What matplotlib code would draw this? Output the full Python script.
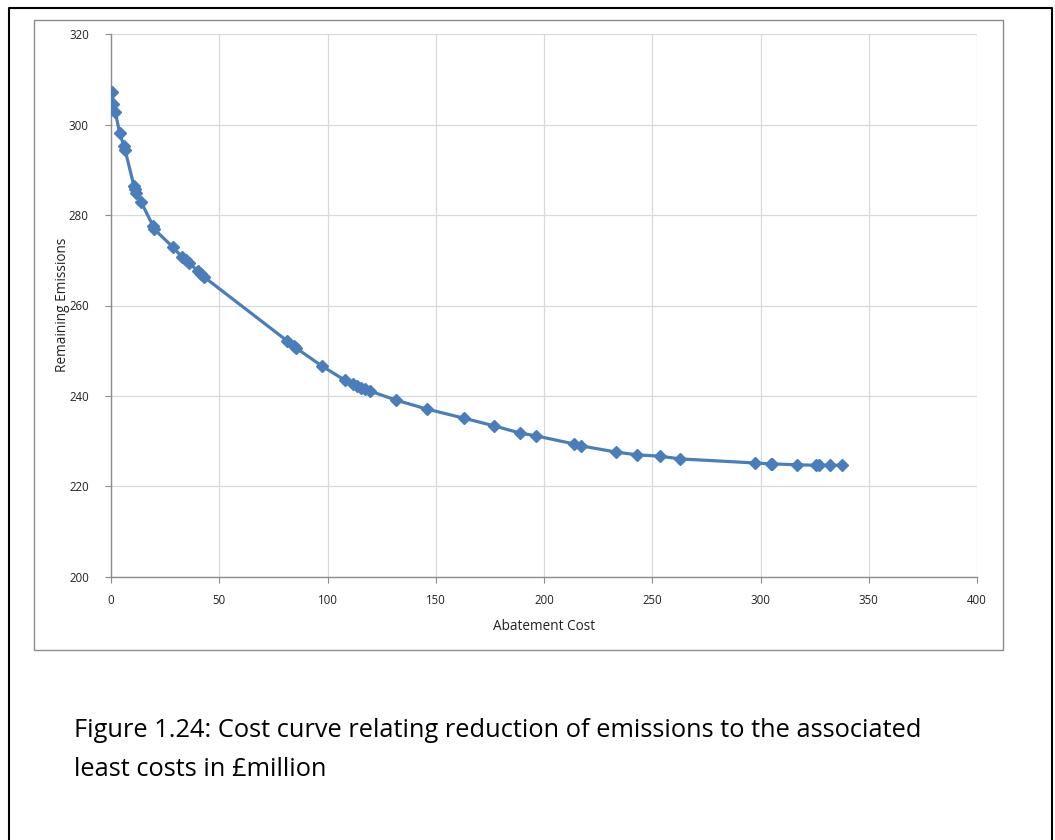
import matplotlib
matplotlib.use("Agg")
import matplotlib.pyplot as plt
from matplotlib.patches import Rectangle
from matplotlib.lines import Line2D

abatement_cost = [0.5, 1.0, 2.0, 4.0, 6.0, 6.5, 10.6, 11.0, 11.5, 13.9, 19.4, 19.9,
                  28.6, 32.8, 34.6, 36.0, 40.2, 41.6, 43.0, 81.3, 84.5, 85.5, 97.5,
                  108.0, 111.8, 113.6, 115.5, 117.3, 119.6, 131.6, 146.0, 163.0,
                  177.0, 189.0, 196.3, 213.9, 217.0, 233.3, 243.0, 253.6, 262.8,
                  297.5, 304.8, 305.5, 316.9, 325.6, 327.0, 332.0, 337.6]
remaining_emissions = [307.2, 304.5, 302.8, 298.1, 295.2, 294.4, 286.4, 285.7, 284.9,
                       282.9, 277.6, 276.9, 272.9, 270.7, 270.1, 269.4, 267.6, 267.0,
                       266.3, 252.2, 251.1, 250.6, 246.6, 243.5, 242.7, 242.2, 241.8,
                       241.5, 241.1, 239.1, 237.1, 235.1, 233.4, 231.8, 231.2, 229.4,
                       229.0, 227.6, 227.0, 226.7, 226.1, 225.2, 225.0, 225.0, 224.8,
                       224.7, 224.7, 224.7, 224.7]
x_ticks = [0, 50, 100, 150, 200, 250, 300, 350, 400]
y_ticks = [200, 220, 240, 260, 280, 300, 320]
x_title = "Abatement Cost"
y_title = "Remaining Emissions"
caption = "Figure 1.24: Cost curve relating reduction of emissions to the associated\nleast costs in £million"

W, H = 1055, 840
fig = plt.figure(figsize=(W / 100, H / 100), dpi=100)
fig.patch.set_facecolor("white")

# outer page border (left, top, right)
fig.add_artist(Line2D([9 / W, 9 / W, 1052 / W, 1052 / W],
                      [0, 1 - 8 / H, 1 - 8 / H, 0],
                      transform=fig.transFigure, color="black", lw=1.5))
# chart area border
fig.add_artist(Rectangle((34 / W, 1 - 650 / H), (1003 - 34) / W, (650 - 20) / H,
                         transform=fig.transFigure, fill=False,
                         edgecolor="#8c8c8c", lw=1.0))

ax = fig.add_axes([111 / W, 1 - 577 / H, (977 - 111) / W, (577 - 34) / H])
ax.plot(abatement_cost, remaining_emissions, color="#4a7ebb", lw=2.3,
        marker="D", markersize=6, markerfacecolor="#4a7ebb",
        markeredgecolor="#4a7ebb", zorder=3)
ax.set_xlim(0, 400)
ax.set_ylim(200, 320)
ax.set_xticks(x_ticks)
ax.set_yticks(y_ticks)
ax.grid(True, color="#d9d9d9", lw=0.9)
ax.set_axisbelow(True)
for s in ["top", "right"]:
    ax.spines[s].set_visible(False)
for s in ["left", "bottom"]:
    ax.spines[s].set_color("#8c8c8c")
    ax.spines[s].set_linewidth(1.0)
ax.tick_params(axis="both", colors="#8c8c8c", length=4, width=0.8,
               labelsize=8.3, labelcolor="#222222")
ax.tick_params(axis="x", pad=8)
ax.tick_params(axis="y", pad=12)
for lab in ax.get_xticklabels() + ax.get_yticklabels():
    lab.set_family("Open Sans")

fig.text((111 + 977) / 2 / W, 1 - 626 / H, x_title, ha="center", va="center",
         fontsize=9.8, family="Open Sans", color="#222222")
fig.text(62 / W, 1 - 305 / H, y_title, ha="center", va="center", rotation=90,
         fontsize=9.8, family="Open Sans", color="#222222")

fig.text(74 / W, 1 - 750 / H, caption, ha="left", va="center",
         fontsize=18.3, family="Open Sans", color="black", linespacing=1.78)

fig.savefig("out.png", dpi=100, facecolor="white")
